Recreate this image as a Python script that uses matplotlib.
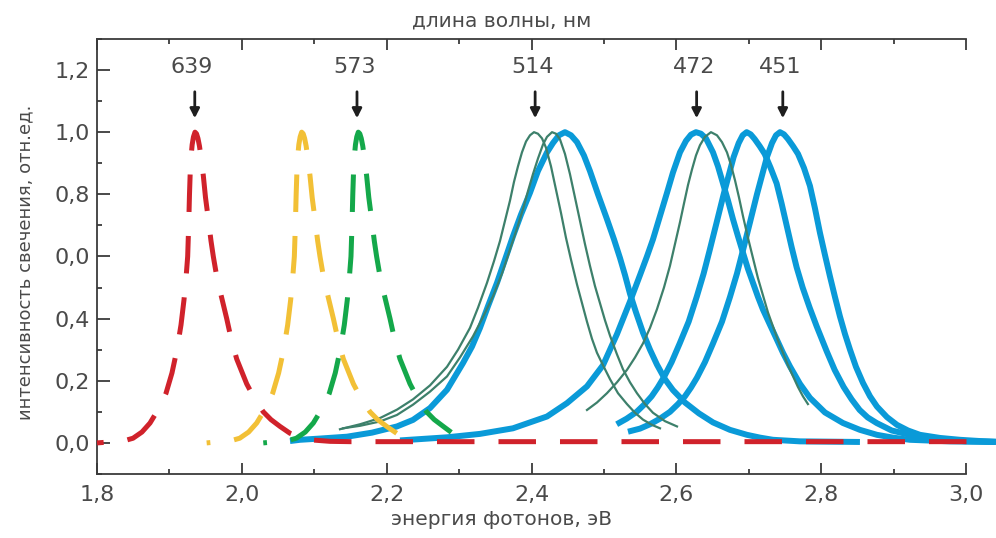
import matplotlib
matplotlib.use('Agg')
import matplotlib.pyplot as plt
import numpy as np
from matplotlib.ticker import MultipleLocator

plt.rcParams['font.family'] = ['DejaVu Sans']

# пики (энергия, эВ) и длины волн для стрелок
peak_wl = [639, 573, 514, 472, 451]
peak_E = [1.935, 2.159, 2.405, 2.628, 2.747]

# штриховые кривые (красная, жёлтая, зелёная)
red_E = [1.800, 1.8179, 1.8345, 1.8497, 1.8621, 1.8732, 1.8870, 1.8953, 1.9035, 1.9104, 1.9160,
         1.9201, 1.9229, 1.9252, 1.9266, 1.9277, 1.9287, 1.9298, 1.9314, 1.9332, 1.9353, 1.9374,
         1.9394, 1.9415, 1.9436, 1.9468, 1.9498, 1.9537, 1.9574, 1.9606, 1.9650, 1.9698, 1.9791,
         1.9857, 1.9929, 2.0067, 2.0181, 2.0296, 2.0402, 2.0527, 2.0665, 2.0803, 2.094, 2.122,
         2.149, 3.005]
red_I = [0.0, 0.003, 0.005, 0.015, 0.035, 0.064, 0.117, 0.16, 0.225, 0.30, 0.38,
         0.46, 0.53, 0.60, 0.70, 0.80, 0.87, 0.92, 0.96, 0.985, 1.0, 0.995,
         0.98, 0.955, 0.92, 0.86, 0.79, 0.72, 0.65, 0.60, 0.54, 0.49, 0.40,
         0.33, 0.27, 0.19, 0.14, 0.10, 0.075, 0.053, 0.031, 0.018, 0.01, 0.005,
         0.004, 0.004]

yel_E = [1.9514, 1.9652, 1.9818, 1.9970, 2.0094, 2.0205, 2.0343, 2.0426, 2.0508, 2.0577, 2.0633,
         2.0674, 2.0702, 2.0725, 2.0739, 2.0750, 2.0760, 2.0771, 2.0787, 2.0805, 2.0826, 2.0847,
         2.0867, 2.0888, 2.0909, 2.0941, 2.0971, 2.1010, 2.1047, 2.1079, 2.1123, 2.1171, 2.1264,
         2.1330, 2.1402, 2.1540, 2.1654, 2.1769, 2.1875, 2.2000, 2.2138]
yel_I = [0.0, 0.003, 0.005, 0.015, 0.035, 0.064, 0.117, 0.16, 0.225, 0.30, 0.38,
         0.46, 0.53, 0.60, 0.70, 0.80, 0.87, 0.92, 0.96, 0.985, 1.0, 0.995,
         0.98, 0.955, 0.92, 0.86, 0.79, 0.72, 0.65, 0.60, 0.54, 0.49, 0.40,
         0.33, 0.27, 0.19, 0.14, 0.10, 0.075, 0.053, 0.031]

grn_E = [2.0296, 2.0434, 2.0600, 2.0752, 2.0876, 2.0987, 2.1125, 2.1208, 2.1290, 2.1359, 2.1415,
         2.1456, 2.1484, 2.1507, 2.1521, 2.1532, 2.1542, 2.1553, 2.1569, 2.1587, 2.1608, 2.1629,
         2.1649, 2.1670, 2.1691, 2.1723, 2.1753, 2.1792, 2.1829, 2.1861, 2.1905, 2.1953, 2.2046,
         2.2112, 2.2184, 2.2322, 2.2436, 2.2551, 2.2657, 2.2782, 2.2892]
grn_I = [0.0, 0.003, 0.005, 0.015, 0.035, 0.064, 0.117, 0.16, 0.225, 0.30, 0.38,
         0.46, 0.53, 0.60, 0.70, 0.80, 0.87, 0.92, 0.96, 0.985, 1.0, 0.995,
         0.98, 0.955, 0.92, 0.86, 0.79, 0.72, 0.65, 0.60, 0.54, 0.49, 0.40,
         0.33, 0.27, 0.19, 0.14, 0.10, 0.075, 0.053, 0.034]

# тонкие тёмно-зелёные кривые
tA_E = [2.1355, 2.1632, 2.1908, 2.2142, 2.2363, 2.2598, 2.2833, 2.2985, 2.3150, 2.3261, 2.3385,
        2.3482, 2.3565, 2.3634, 2.3703, 2.3758, 2.3813, 2.3868, 2.3924, 2.3979, 2.4034, 2.4089,
        2.4145, 2.4200, 2.4269, 2.4338, 2.4407, 2.4476, 2.4545, 2.4628, 2.4697, 2.4766, 2.4835,
        2.4904, 2.4987, 2.5084, 2.5194, 2.5318, 2.5429, 2.5539, 2.5663, 2.5774]
tA_I = [0.044, 0.06, 0.08, 0.107, 0.14, 0.185, 0.245, 0.30, 0.37, 0.435, 0.515,
        0.585, 0.65, 0.715, 0.78, 0.84, 0.89, 0.935, 0.97, 0.99, 1.0, 0.995,
        0.98, 0.95, 0.89, 0.815, 0.74, 0.66, 0.59, 0.51, 0.45, 0.39, 0.335,
        0.29, 0.25, 0.205, 0.16, 0.125, 0.097, 0.075, 0.058, 0.047]

tB_E = [2.1397, 2.1632, 2.1908, 2.2142, 2.2363, 2.2598, 2.2833, 2.3012, 2.3192, 2.3330, 2.3468,
        2.3592, 2.3703, 2.3799, 2.3882, 2.3951, 2.4020, 2.4089, 2.4158, 2.4214, 2.4283, 2.4338,
        2.4393, 2.4462, 2.4531, 2.4600, 2.4669, 2.4738, 2.4807, 2.4876, 2.4945, 2.5014, 2.5084,
        2.5180, 2.5263, 2.5360, 2.5456, 2.5567, 2.5677, 2.5843, 2.6009]
tB_I = [0.047, 0.055, 0.069, 0.09, 0.123, 0.165, 0.214, 0.275, 0.343, 0.405, 0.472,
        0.545, 0.623, 0.69, 0.752, 0.81, 0.865, 0.915, 0.96, 0.985, 1.0, 0.995,
        0.977, 0.93, 0.865, 0.79, 0.715, 0.64, 0.57, 0.505, 0.45, 0.395, 0.345,
        0.285, 0.237, 0.195, 0.16, 0.125, 0.097, 0.07, 0.053]

tC_E = [2.4766, 2.4904, 2.5042, 2.5180, 2.5318, 2.5429, 2.5539, 2.5636, 2.5732, 2.5829, 2.5912,
        2.5981, 2.6050, 2.6105, 2.6161, 2.6216, 2.6271, 2.6326, 2.6395, 2.6478, 2.6561, 2.6630,
        2.6699, 2.6754, 2.6810, 2.6865, 2.6920, 2.6989, 2.7058, 2.7127, 2.7196, 2.7265, 2.7334,
        2.7403, 2.7472, 2.7541, 2.7610, 2.7679, 2.7748, 2.7817]
tC_I = [0.106, 0.13, 0.16, 0.195, 0.235, 0.275, 0.32, 0.37, 0.43, 0.50, 0.57,
        0.64, 0.71, 0.77, 0.83, 0.88, 0.925, 0.958, 0.985, 1.0, 0.99, 0.968,
        0.935, 0.895, 0.845, 0.79, 0.73, 0.66, 0.595, 0.53, 0.475, 0.42, 0.375,
        0.33, 0.29, 0.25, 0.215, 0.18, 0.15, 0.125]

# толстые голубые кривые
b1_E = [2.0665, 2.0803, 2.1079, 2.1452, 2.1797, 2.2142, 2.2363, 2.2598, 2.2833, 2.3054, 2.3178,
        2.3288, 2.3399, 2.3523, 2.3634, 2.3744, 2.3855, 2.3979, 2.4089, 2.4214, 2.4296, 2.4379,
        2.4462, 2.4545, 2.4628, 2.4724, 2.4807, 2.4918, 2.5042, 2.5139, 2.5222, 2.5291, 2.5360,
        2.5443, 2.5539, 2.5636, 2.5732, 2.5843, 2.5953, 2.6119, 2.6312, 2.6506, 2.6740, 2.6975,
        2.7155, 2.7334, 2.7707, 2.8535]
b1_I = [0.006, 0.01, 0.014, 0.02, 0.033, 0.053, 0.074, 0.112, 0.171, 0.257, 0.31,
        0.37, 0.44, 0.515, 0.59, 0.665, 0.735, 0.805, 0.875, 0.935, 0.965, 0.99,
        1.0, 0.99, 0.968, 0.925, 0.875, 0.80, 0.72, 0.655, 0.595, 0.54, 0.48,
        0.42, 0.355, 0.30, 0.252, 0.205, 0.17, 0.13, 0.095, 0.066, 0.042, 0.026,
        0.017, 0.01, 0.005, 0.003]

b2_E = [2.2184, 2.2833, 2.3288, 2.3744, 2.4214, 2.4490, 2.4766, 2.4987, 2.5180, 2.5360, 2.5498,
        2.5594, 2.5677, 2.5774, 2.5871, 2.5953, 2.6050, 2.6133, 2.6202, 2.6271, 2.6340, 2.6409,
        2.6506, 2.6575, 2.6644, 2.6713, 2.6782, 2.6851, 2.6920, 2.6989, 2.7058, 2.7127, 2.7196,
        2.7293, 2.7389, 2.7472, 2.7569, 2.7707, 2.7845, 2.8052, 2.8301, 2.8535, 2.8770, 2.8991,
        2.9226, 2.9778, 3.0413]
b2_I = [0.008, 0.018, 0.029, 0.047, 0.085, 0.128, 0.182, 0.25, 0.35, 0.455, 0.54,
        0.60, 0.655, 0.73, 0.805, 0.87, 0.935, 0.972, 0.992, 1.0, 0.995, 0.98,
        0.935, 0.89, 0.835, 0.78, 0.72, 0.665, 0.612, 0.56, 0.515, 0.47, 0.429,
        0.38, 0.332, 0.29, 0.246, 0.19, 0.145, 0.098, 0.064, 0.042, 0.026, 0.017,
        0.01, 0.005, 0.003]

b3_E = [2.5176, 2.5314, 2.5452, 2.5563, 2.5659, 2.5742, 2.5825, 2.5935, 2.6046, 2.6170, 2.6281,
        2.6377, 2.6460, 2.6557, 2.6653, 2.6722, 2.6791, 2.6861, 2.6916, 2.6971, 2.7026, 2.7081,
        2.7151, 2.7220, 2.7302, 2.7385, 2.7454, 2.7523, 2.7592, 2.7661, 2.7744, 2.7841, 2.7938,
        2.8076, 2.8186, 2.8310, 2.8421, 2.8531, 2.8642, 2.8766, 2.8973, 2.9222, 2.9456, 2.9691,
        3.0009, 3.0409]
b3_I = [0.06, 0.078, 0.10, 0.125, 0.15, 0.178, 0.21, 0.26, 0.32, 0.39, 0.47,
        0.545, 0.62, 0.71, 0.80, 0.86, 0.92, 0.965, 0.99, 1.0, 0.993, 0.978,
        0.955, 0.93, 0.885, 0.835, 0.77, 0.70, 0.63, 0.565, 0.50, 0.435, 0.375,
        0.295, 0.235, 0.18, 0.14, 0.106, 0.082, 0.064, 0.04, 0.026, 0.016, 0.01,
        0.005, 0.003]

b4_E = [2.5332, 2.5498, 2.5636, 2.5774, 2.5912, 2.6023, 2.6119, 2.6202, 2.6285, 2.6395, 2.6506,
        2.6630, 2.6741, 2.6837, 2.6920, 2.7017, 2.7113, 2.7182, 2.7251, 2.7321, 2.7376, 2.7431,
        2.7486, 2.7541, 2.7611, 2.7680, 2.7762, 2.7845, 2.7914, 2.7983, 2.8052, 2.8121, 2.8190,
        2.8259, 2.8329, 2.8398, 2.8480, 2.8577, 2.8674, 2.8770, 2.8908, 2.9047, 2.9198, 2.9364,
        2.9640, 2.9916, 3.0193, 3.0414]
b4_I = [0.036, 0.046, 0.06, 0.078, 0.10, 0.125, 0.15, 0.178, 0.21, 0.26, 0.32,
        0.39, 0.47, 0.545, 0.62, 0.71, 0.80, 0.86, 0.92, 0.965, 0.99, 1.0,
        0.993, 0.978, 0.955, 0.93, 0.885, 0.827, 0.755, 0.676, 0.605, 0.536, 0.47,
        0.407, 0.35, 0.30, 0.245, 0.193, 0.15, 0.117, 0.083, 0.058, 0.04, 0.026,
        0.016, 0.01, 0.006, 0.004]

x_ticks = [1.8, 2.0, 2.2, 2.4, 2.6, 2.8, 3.0]
x_labels = ['1,8', '2,0', '2,2', '2,4', '2,6', '2,8', '3,0']
y_ticks = [0.0, 0.2, 0.4, 0.6, 0.8, 1.0, 1.2]
y_labels = ['0,0', '0,2', '0,4', '0,0', '0,8', '1,0', '1,2']

BLUE = '#0a9ad8'
TEAL = '#3d806b'
TXT = '#4a4a4a'
AX = '#3a3a3a'
DASH = (7.5, 4.8)
DLW = 3.6

fig = plt.figure(figsize=(9.96, 5.38), dpi=100)
ax = fig.add_axes([0.0974, 0.119, 0.8725, 0.8086])
ax.set_xlim(1.8, 3.0)
ax.set_ylim(-0.1, 1.3)


def dash_style(E, I):
    # сдвиг штриха, чтобы вершина пика попадала на штрих
    pts = ax.transData.transform(np.column_stack([E, I]))
    seg = np.hypot(*np.diff(pts, axis=0).T)
    k = int(np.argmax(I))
    L = seg[:k].sum() * 72 / fig.dpi / DLW
    return ((DASH[0] / 2 - L) % (DASH[0] + DASH[1]), DASH)


for E, I in [(b1_E, b1_I), (b2_E, b2_I), (b3_E, b3_I), (b4_E, b4_I)]:
    ax.plot(E, I, color=BLUE, lw=4.3, solid_joinstyle='round', solid_capstyle='butt',
            clip_on=False, zorder=2)
for E, I in [(tA_E, tA_I), (tB_E, tB_I), (tC_E, tC_I)]:
    ax.plot(E, I, color=TEAL, lw=1.6, solid_joinstyle='round', clip_on=False, zorder=3)

ax.plot(yel_E, yel_I, color='#f2c036', lw=DLW, ls=dash_style(yel_E, yel_I),
        dash_capstyle='butt', dash_joinstyle='round', zorder=4)
ax.plot(grn_E, grn_I, color='#14a84a', lw=DLW, ls=dash_style(grn_E, grn_I),
        dash_capstyle='butt', dash_joinstyle='round', zorder=5)
ax.plot(red_E, red_I, color='#d0222b', lw=DLW, ls=dash_style(red_E, red_I),
        dash_capstyle='butt', dash_joinstyle='round', clip_on=False, zorder=6)

# стрелки с длинами волн
for wl, e in zip(peak_wl, peak_E):
    ax.annotate('', xy=(e, 1.045), xytext=(e, 1.13),
                arrowprops=dict(arrowstyle='-|>,head_length=0.55,head_width=0.28',
                                lw=2, color='#1e1e1e', shrinkA=0, shrinkB=0))
    ax.text(e - 0.004, 1.21, str(wl), ha='center', va='center', fontsize=16, color=TXT)

ax.spines['right'].set_visible(False)
for s in ['left', 'bottom', 'top']:
    ax.spines[s].set_color(AX)
    ax.spines[s].set_linewidth(1.3)

ax.set_xticks(x_ticks)
ax.set_xticklabels(x_labels)
ax.set_yticks(y_ticks)
ax.set_yticklabels(y_labels)
ax.xaxis.set_minor_locator(MultipleLocator(0.1))
ax.yaxis.set_minor_locator(MultipleLocator(0.1))
ax.tick_params(axis='x', which='major', direction='in', length=8, width=1.3, color=AX,
               top=True, labelsize=16, labelcolor=TXT, pad=8)
ax.tick_params(axis='x', which='minor', direction='in', length=3.5, width=1.3, color=AX,
               top=True)
ax.tick_params(axis='y', which='major', direction='in', length=9, width=1.3, color=AX,
               labelsize=16, labelcolor=TXT, pad=5)
ax.tick_params(axis='y', which='minor', direction='in', length=3.5, width=1.3, color=AX)

fig.text(0.504, 0.961, 'длина волны, нм', ha='center', va='center', fontsize=14.5, color=TXT)
fig.text(0.504, 0.034, 'энергия фотонов, эВ', ha='center', va='center', fontsize=14.5, color=TXT)
fig.text(0.025, 0.513, 'интенсивность свечения, отн.ед.', ha='center', va='center',
         rotation=90, fontsize=13, color=TXT)

fig.savefig('out.png', dpi=100)
plt.close(fig)
